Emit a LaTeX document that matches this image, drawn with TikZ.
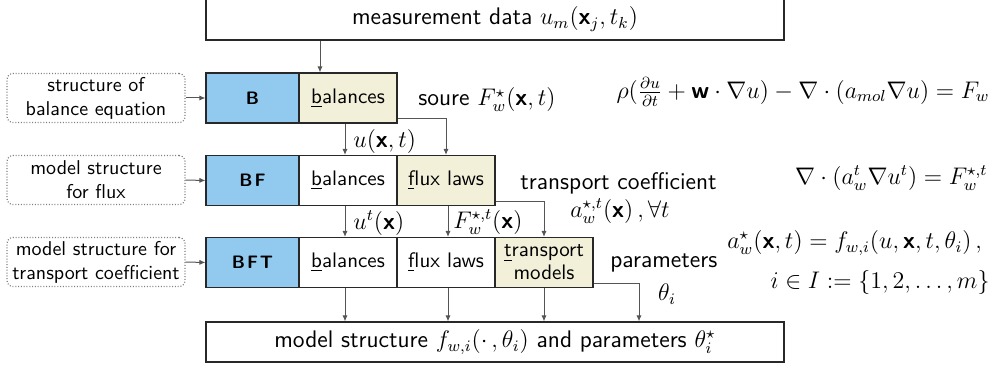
\documentclass[tikz,border=0pt]{standalone}
\usetikzlibrary{arrows.meta}
\definecolor{bblue}{RGB}{146,201,238}
\definecolor{byel}{RGB}{243,240,218}
\definecolor{lin}{RGB}{40,40,40}
\definecolor{arrc}{RGB}{85,85,85}
\newcommand{\bx}{\mbox{\sffamily\bfseries x}}
\newcommand{\bw}{\mbox{\sffamily\bfseries w}}
\tikzset{
  box/.style={draw=lin, line width=0.6pt, minimum height=25pt, inner sep=0pt, align=center,
    font=\sffamily\fontsize{10.5}{12.5}\selectfont},
  bluebox/.style={box, fill=bblue, minimum width=46.5pt, font=\sffamily\bfseries\small},
  colbox/.style={box, minimum width=49pt},
  wide/.style={draw=lin, line width=0.6pt, minimum width=289pt, inner sep=0pt, font=\sffamily\large},
  dbox/.style={draw=gray, line width=0.6pt, dash pattern=on 0.5pt off 0.9pt, rounded corners=3pt,
    minimum width=89pt, minimum height=24.5pt, inner sep=0pt, align=center, font=\sffamily\normalsize},
  arr/.style={draw=arrc, line width=0.5pt, -{Latex[length=3pt,width=2.6pt]}},
  lbl/.style={font=\sffamily\large, inner sep=0pt},
}
\begin{document}
\begin{tikzpicture}[x=0.5pt,y=-0.5pt]
\useasboundingbox (0,0) rectangle (991,368);
% top and bottom
\node[wide, minimum height=21pt] (top) at (495,19) {measurement data $u_m(\bx_j,t_k)$};
\node[wide, minimum height=20pt] (bot) at (495,342) {model structure $f_{w,i}(\cdot\,,\theta_i)$ and parameters $\theta_i^\star$};
% row 1
\node[bluebox] (B) at (252.5,98) {B};
\node[colbox, fill=byel] (bal1) at (348,98) {\underline{b}alances};
% row 2
\node[bluebox] (BF) at (252.5,180.5) {B\kern1pt F};
\node[colbox] (bal2) at (348,180.5) {\underline{b}alances};
\node[colbox, fill=byel] (flux2) at (446,180.5) {\underline{f}lux laws};
% row 3
\node[bluebox] (BFT) at (252.5,262.5) {B\kern1pt F\kern1pt T};
\node[colbox] (bal3) at (348,262.5) {\underline{b}alances};
\node[colbox] (flux3) at (446,262.5) {\underline{f}lux laws};
\node[colbox, fill=byel] (trans3) at (544,262.5) {\underline{t}ransport\\[-1pt]models};
% dotted boxes
\node[dbox] (d1) at (96,98) {structure of\\balance equation};
\node[dbox] (d2) at (96,180) {model structure\\for flux};
\node[dbox] (d3) at (96,262) {model structure for\\transport coefficient};
\draw[arr] (d1.east) -- (B.west);
\draw[arr] (d2.east) -- (BF.west);
\draw[arr] (d3.east) -- (BFT.west);
% connectors
\draw[arr] ([xshift=-14pt]bal1.north |- top.south) -- ([xshift=-14pt]bal1.north);
\draw[arr] ([xshift=-1.5pt]bal1.south) -- ([xshift=-1.5pt]bal2.north);
\draw[arr] ([yshift=2.5pt]bal1.south east) -| (flux2.north);
\draw[arr] ([xshift=-1.5pt]bal2.south) -- ([xshift=-1.5pt]bal3.north);
\draw[arr] ([xshift=1pt]flux2.south) -- ([xshift=1pt]flux3.north);
\draw[arr] ([yshift=2.5pt]flux2.south east) -| (trans3.north);
\draw[arr] ([xshift=-1.5pt]bal3.south) -- ([xshift=-1.5pt]bal3.south |- bot.north);
\draw[arr] ([xshift=1pt]flux3.south) -- ([xshift=1pt]flux3.south |- bot.north);
\draw[arr] (trans3.south) -- (trans3.south |- bot.north);
\coordinate (thx) at (639,300);
\draw[arr] ([yshift=2.5pt]trans3.south east) -| (thx |- bot.north);
% labels
\node[lbl, anchor=west] (l1) at (353,142) {$u(\bx,t)$};
\node[lbl, anchor=west] (l2) at (353,223) {$u^t(\bx)$};
\node[lbl, anchor=west] (l3) at (453,222) {$F_w^{\star,t}(\bx)$};
\node[lbl, anchor=west] (l4) at (418,100) {soure $F_w^\star(\bx,t)$};
\node[lbl, anchor=west] (l5) at (520,183) {transport coefficient};
\node[lbl, anchor=west] (l6) at (570,211) {$a_w^{\star,t}(\bx)\,,\forall t$};
\node[lbl, anchor=west] (l7) at (610,263) {parameters};
\node[lbl] (l8) at (667,294) {$\theta_i$};
\node[lbl, anchor=east] (e1) at (990,92) {$\rho(\frac{\partial u}{\partial t}+\bw\cdot\nabla u)-\nabla\cdot(a_{mol}\nabla u)=F_w$};
\node[lbl, anchor=east] (e2) at (988,178) {$\nabla\cdot(a_w^t\nabla u^t)=F_w^{\star,t}$};
\node[lbl, anchor=west] (e3) at (727,243) {$a_w^\star(\bx,t)=f_{w,i}(u,\bx,t,\theta_i)\,,$};
\node[lbl, anchor=east] (e4) at (990,283) {$i\in I:=\{1,2,\ldots,m\}$};
\end{tikzpicture}
\end{document}
